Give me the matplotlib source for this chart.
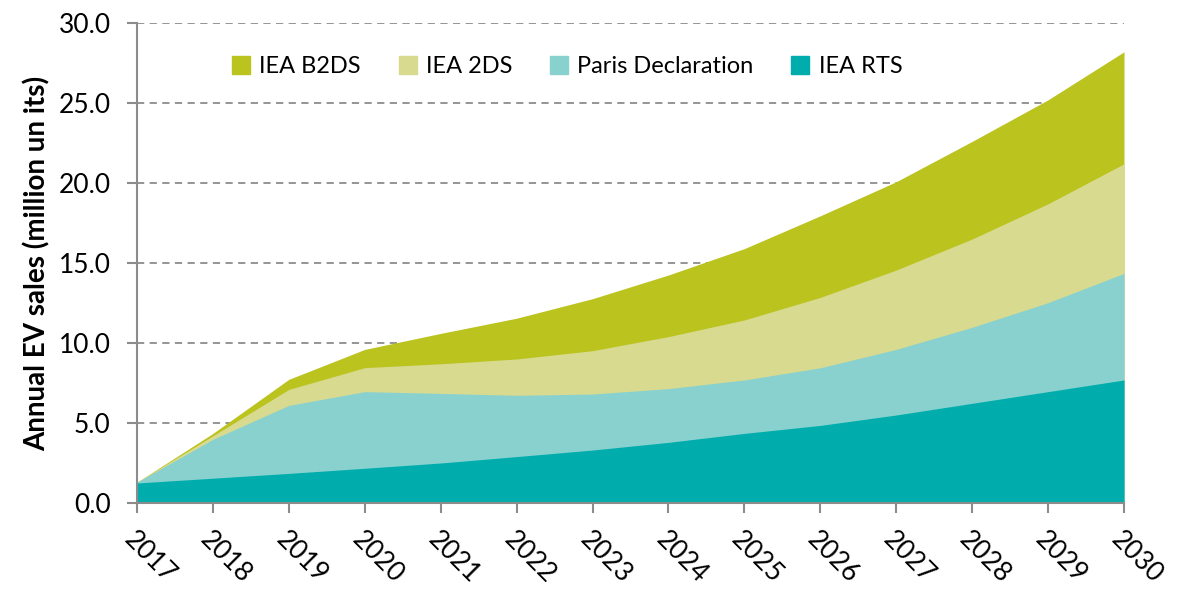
import matplotlib
matplotlib.use("Agg")
import matplotlib.pyplot as plt
from matplotlib.patches import Patch

years = [2017, 2018, 2019, 2020, 2021, 2022, 2023, 2024, 2025, 2026, 2027, 2028, 2029, 2030]
rts_top = [1.25, 1.55, 1.85, 2.17, 2.5, 2.9, 3.31, 3.79, 4.35, 4.85, 5.5, 6.23, 6.96, 7.69]
paris_top = [1.3, 3.98, 6.1, 6.96, 6.85, 6.73, 6.81, 7.15, 7.69, 8.45, 9.6, 10.98, 12.52, 14.35]
twods_top = [1.3, 4.2, 7.1, 8.46, 8.7, 9.0, 9.52, 10.4, 11.44, 12.85, 14.56, 16.5, 18.7, 21.2]
b2ds_top = [1.3, 4.35, 7.73, 9.6, 10.6, 11.55, 12.77, 14.25, 15.9, 17.95, 20.08, 22.6, 25.2, 28.2]
ytick_vals = [0, 5, 10, 15, 20, 25, 30]

c_b2ds = "#BBC31F"
c_2ds = "#D8DA8F"
c_paris = "#88D1CF"
c_rts = "#00ADAC"

plt.rcParams['font.family'] = ['Lato', 'DejaVu Sans']

fig = plt.figure(figsize=(11.84, 5.93), dpi=100)
ax = fig.add_axes([137/1184, 1 - 503/593, (1124-137)/1184, (503-23)/593])

ax.fill_between(years, 0, b2ds_top, color=c_b2ds, linewidth=0)
ax.fill_between(years, 0, twods_top, color=c_2ds, linewidth=0)
ax.fill_between(years, 0, paris_top, color=c_paris, linewidth=0)
ax.fill_between(years, 0, rts_top, color=c_rts, linewidth=0)

ax.set_xlim(2017, 2030)
ax.set_ylim(0, 30)
ax.set_yticks(ytick_vals)
ax.set_yticklabels([f"{v:.1f}" for v in ytick_vals], fontsize=19)
ax.set_xticks(years)
ax.set_xticklabels([str(y) for y in years], rotation=-45, ha='left', va='top',
                   rotation_mode='anchor', fontsize=19)

for v in ytick_vals[1:]:
    ax.axhline(v, color='#8C8C8C', linestyle=(0, (4, 3)), linewidth=1.3, zorder=0.5)
ax.set_axisbelow(True)

for s in ['top', 'right']:
    ax.spines[s].set_visible(False)
for s in ['left', 'bottom']:
    ax.spines[s].set_color('#8C8C8C')
    ax.spines[s].set_linewidth(1.5)
ax.tick_params(axis='both', color='#8C8C8C', width=1.5, length=7, direction='out')
ax.tick_params(axis='x', pad=10)
ax.tick_params(axis='y', pad=12)

ax.set_ylabel("Annual EV sales (million un its)", fontsize=20, fontweight='bold', labelpad=6)

handles = [Patch(color=c_b2ds, label='IEA B2DS'),
           Patch(color=c_2ds, label='IEA 2DS'),
           Patch(color=c_paris, label='Paris Declaration'),
           Patch(color=c_rts, label='IEA RTS')]
leg = ax.legend(handles=handles, ncol=4, loc='upper left', bbox_to_anchor=(0.075, 0.975),
                frameon=False, fontsize=17, handlelength=0.75, handleheight=0.75,
                handletextpad=0.4, columnspacing=1.6)

fig.savefig("out.png", dpi=100)
